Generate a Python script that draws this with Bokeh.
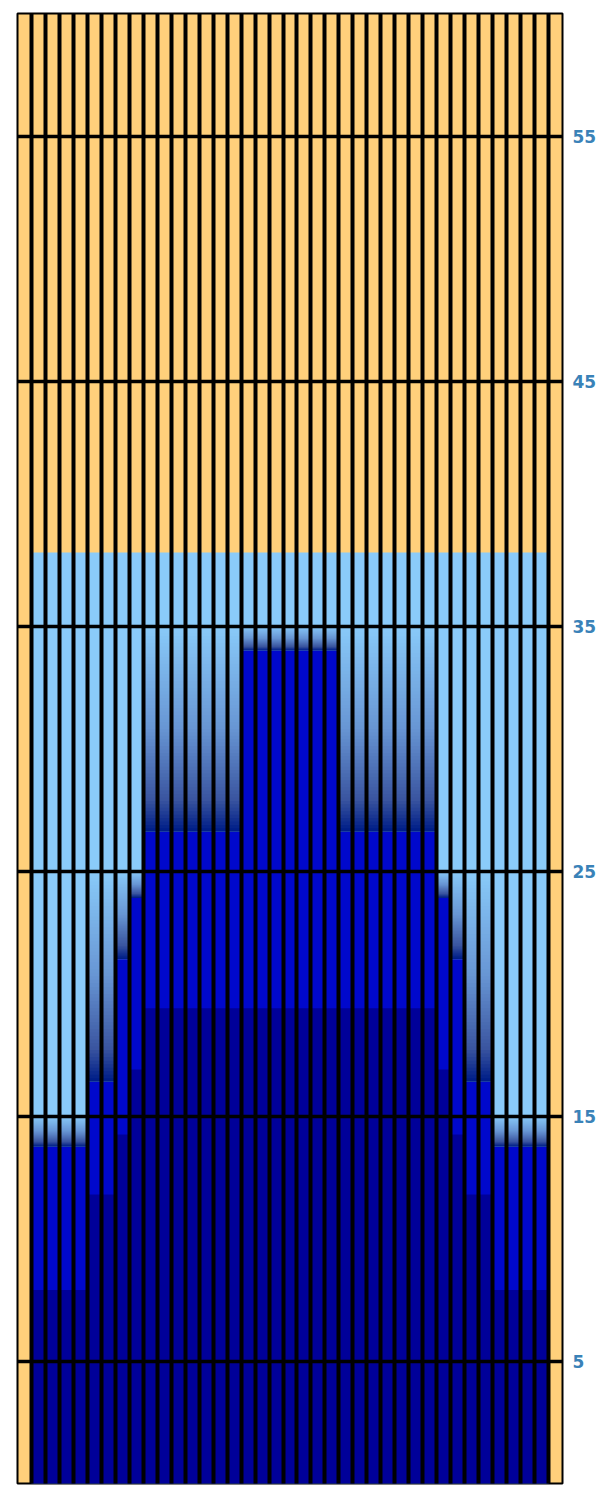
import numpy as np
from bokeh.plotting import figure
from bokeh.models import FixedTicker, Range1d, Grid
from bokeh.embed import file_html
from bokeh.resources import INLINE

# ---- data ----
columns = list(range(1, 38))
navy_top = [7.9, 7.9, 7.9, 7.9, 11.8, 11.8, 14.25, 16.9,
            19.4, 19.4, 19.4, 19.4, 19.4, 19.4, 19.4, 19.4, 19.4, 19.4, 19.4,
            19.4, 19.4, 19.4, 19.4, 19.4, 19.4, 19.4, 19.4, 19.4, 19.4,
            16.9, 14.25, 11.8, 11.8, 7.9, 7.9, 7.9, 7.9]
blue_top = [13.75, 13.75, 13.75, 13.75, 16.4, 16.4, 21.4, 23.9,
            26.6, 26.6, 26.6, 26.6, 26.6, 26.6, 26.6,
            34.0, 34.0, 34.0, 34.0, 34.0, 34.0, 34.0,
            26.6, 26.6, 26.6, 26.6, 26.6, 26.6, 26.6,
            23.9, 21.4, 16.4, 16.4, 13.75, 13.75, 13.75, 13.75]
grad_top = [15, 15, 15, 15, 25, 25, 25, 25,
            35, 35, 35, 35, 35, 35, 35, 35, 35, 35, 35,
            35, 35, 35, 35, 35, 35, 35, 35, 35, 35,
            25, 25, 25, 25, 15, 15, 15, 15]
light_top = [38] * 37
y_ticks = [5, 15, 25, 35, 45, 55]
x_lines = list(range(1, 39))

# colours
BG = "#FFD07B"
LIGHT = "#8ACBFA"
BLUE = "#0008CC"
NAVY = "#000099"
grad_stops_t = [0.0, 0.5, 0.85, 1.0]
grad_stops_rgb = [(138, 204, 250), (104, 150, 212), (58, 85, 160), (0, 30, 135)]

p = figure(width=606, height=1492, output_backend="svg", toolbar_location=None,
           x_range=Range1d(0, 39), y_range=Range1d(0, 60),
           y_axis_location="right", x_axis_location="below",
           min_border_left=17, min_border_right=44, min_border_top=13,
           min_border_bottom=9)
p.xaxis.visible = False
p.background_fill_color = BG
p.border_fill_color = "white"
p.outline_line_color = "black"
p.outline_line_width = 2

left = [c for c in columns]
right = [c + 1 for c in columns]
zeros = [0] * len(columns)

p.quad(left=left, right=right, bottom=zeros, top=light_top,
       fill_color=LIGHT, line_color=None)
p.quad(left=left, right=right, bottom=zeros, top=blue_top,
       fill_color=BLUE, line_color=None)
p.quad(left=left, right=right, bottom=zeros, top=navy_top,
       fill_color=NAVY, line_color=None)

# gradient between blue_top (dark) and grad_top (light)
N = 60
gl, gr, gb, gt, gc = [], [], [], [], []
for i in range(N):
    t = 1.0 - i / N  # 1 at bottom (dark), 0 at top (light)
    rgb = [int(round(np.interp(t, grad_stops_t, [s[k] for s in grad_stops_rgb]))) for k in range(3)]
    col = "#%02x%02x%02x" % tuple(rgb)
    for c, b, top in zip(columns, blue_top, grad_top):
        gl.append(c); gr.append(c + 1)
        gb.append(b + (top - b) * i / N); gt.append(top)
        gc.append(col)
p.quad(left=gl, right=gr, bottom=gb, top=gt, fill_color=gc, line_color=None)

# grid lines drawn on top
p.xgrid.ticker = FixedTicker(ticks=x_lines)
p.xgrid.grid_line_color = "black"
p.xgrid.grid_line_width = 4
p.xgrid.level = "overlay"

p.yaxis.ticker = FixedTicker(ticks=y_ticks)
p.ygrid.ticker = FixedTicker(ticks=y_ticks)
p.ygrid.grid_line_color = "black"
p.ygrid.grid_line_width = 3.5
p.ygrid.level = "overlay"

ax = p.yaxis[0]
ax.axis_line_color = None
ax.major_tick_line_color = None
ax.minor_tick_line_color = None
ax.major_tick_out = 0
ax.major_tick_in = 0
ax.major_label_standoff = 10
ax.major_label_text_font = "DejaVu Sans"
ax.major_label_text_font_style = "bold"
ax.major_label_text_font_size = "17px"
ax.major_label_text_color = "#3A82B8"

open("out.html", "w").write(file_html(p, INLINE))
